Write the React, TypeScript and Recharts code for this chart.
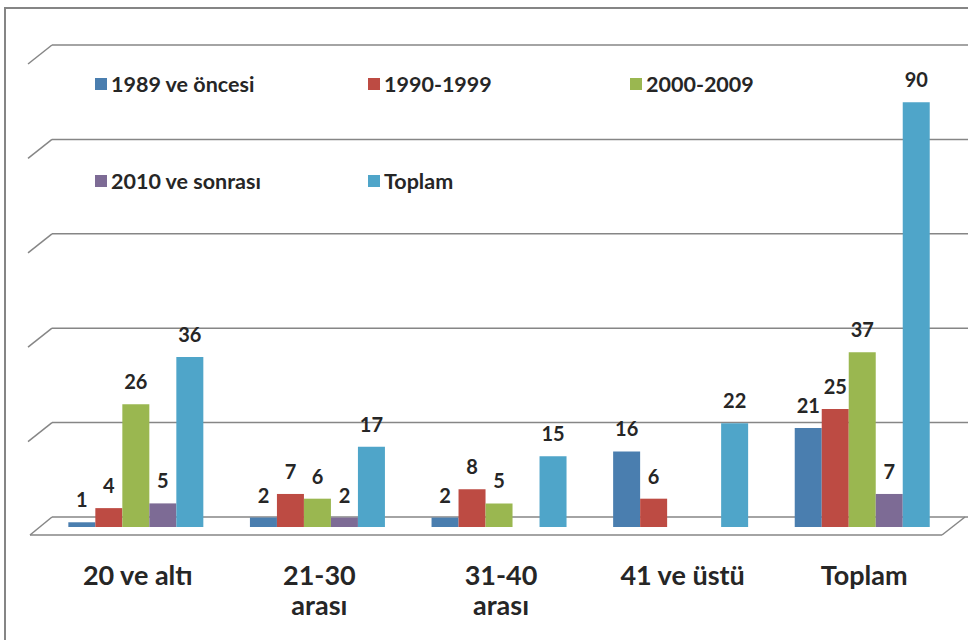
import { BarChart, Bar, XAxis, YAxis, CartesianGrid, LabelList } from 'recharts';

const categories = ['20 ve altı', '21-30\narası', '31-40\narası', '41 ve üstü', 'Toplam'];
const before1989 = [1, 2, 2, 16, 21];
const y1990s = [4, 7, 8, 6, 25];
const y2000s = [26, 6, 5, 0, 37];
const after2010 = [5, 2, 0, 0, 7];
const toplam = [36, 17, 15, 22, 90];
const yTicks = [0, 20, 40, 60, 80, 100];

const series = [
    { key: 'a', name: '1989 ve öncesi', values: before1989, color: '#4A7EAF' },
    { key: 'b', name: '1990-1999', values: y1990s, color: '#BD4B43' },
    { key: 'c', name: '2000-2009', values: y2000s, color: '#9AB750' },
    { key: 'd', name: '2010 ve sonrası', values: after2010, color: '#7D6B95' },
    { key: 'e', name: 'Toplam', values: toplam, color: '#4FA5C9' },
];

const data = categories.map((name, i) => {
    const row: { [key: string]: any } = { name };
    series.forEach((s) => (row[s.key] = s.values[i]));
    return row;
});

const FONT = 'Lato, "Open Sans", sans-serif';
const GRID = '#868686';

// fake 3d wall / floor lines
function WallLine(props: any) {
    const { x1, y1, x2, index } = props;
    const back = y1 - 10;
    if (index === 0 || y1 > 500) {
        return (
            <g key={`floor-${index}`} stroke={GRID} strokeWidth={1.5} fill="none">
                <line x1={x1 + 8} y1={back} x2={968} y2={back} />
                <line x1={x1 - 14} y1={y1 + 8} x2={x2 - 10} y2={y1 + 8} />
                <line x1={x1 - 14} y1={y1 + 8} x2={x1 + 8} y2={back} />
                <line x1={x2 - 10} y1={y1 + 8} x2={x2 + 13} y2={back} />
            </g>
        );
    }
    return (
        <g key={`wall-${index}`} stroke={GRID} strokeWidth={1.5} fill="none">
            <line x1={x1 + 8} y1={back} x2={968} y2={back} />
            <line x1={x1 - 16} y1={back + 19} x2={x1 + 8} y2={back} />
        </g>
    );
}

function CategoryTick({ x, y, payload }: any) {
    const lines = String(payload.value).split('\n');
    return (
        <text x={x + 3} y={y} textAnchor="middle" fontFamily={FONT} fontWeight={700} fontSize={27} fill="#262626">
            {lines.map((l, i) => (
                <tspan key={i} x={x + 3} dy={i === 0 ? 58 : 30}>
                    {l}
                </tspan>
            ))}
        </text>
    );
}

function ValueLabel({ x, y, width, value }: any) {
    if (!value) return null;
    return (
        <text x={x + width / 2} y={y - 15} textAnchor="middle" fontFamily={FONT} fontWeight={700} fontSize={20} fill="#262626">
            {value}
        </text>
    );
}

const legendRows = [series.slice(0, 3), series.slice(3)];
const legendCols = [95, 368, 630];
const legendTops = [84, 181];

export default function App() {
    return (
        <div style={{ position: 'absolute', left: 0, top: 0, width: 968, height: 640, overflow: 'hidden', background: '#fff' }}>
            <div
                style={{
                    position: 'absolute',
                    left: 4,
                    top: 7,
                    width: 1000,
                    height: 700,
                    border: '2px solid #858585',
                    boxSizing: 'border-box',
                }}
            />
            <BarChart
                width={968}
                height={640}
                data={data}
                margin={{ top: 55, right: 16, bottom: 33, left: 44 }}
                barCategoryGap="13.4%"
                barGap={0}
                style={{ position: 'absolute', left: 0, top: 0 }}
            >
                <CartesianGrid vertical={false} horizontal={WallLine as any} />
                <XAxis
                    dataKey="name"
                    axisLine={false}
                    tickLine={false}
                    tickSize={0}
                    tickMargin={0}
                    height={80}
                    interval={0}
                    tick={<CategoryTick />}
                />
                <YAxis hide domain={[0, 100]} ticks={yTicks} />
                {series.map((s) => (
                    <Bar key={s.key} dataKey={s.key} name={s.name} fill={s.color} isAnimationActive={false}>
                        <LabelList dataKey={s.key} content={<ValueLabel />} />
                    </Bar>
                ))}
            </BarChart>
            {legendRows.map((row, r) =>
                row.map((s, c) => (
                    <div
                        key={s.key}
                        style={{
                            position: 'absolute',
                            left: legendCols[c],
                            top: legendTops[r] - 13,
                            height: 26,
                            display: 'flex',
                            alignItems: 'center',
                            fontFamily: FONT,
                            fontWeight: 700,
                            fontSize: 21.5,
                            color: '#262626',
                            whiteSpace: 'nowrap',
                        }}
                    >
                        <span style={{ width: 12, height: 12, background: s.color, marginRight: 4, display: 'inline-block' }} />
                        {s.name}
                    </div>
                ))
            )}
        </div>
    );
}
